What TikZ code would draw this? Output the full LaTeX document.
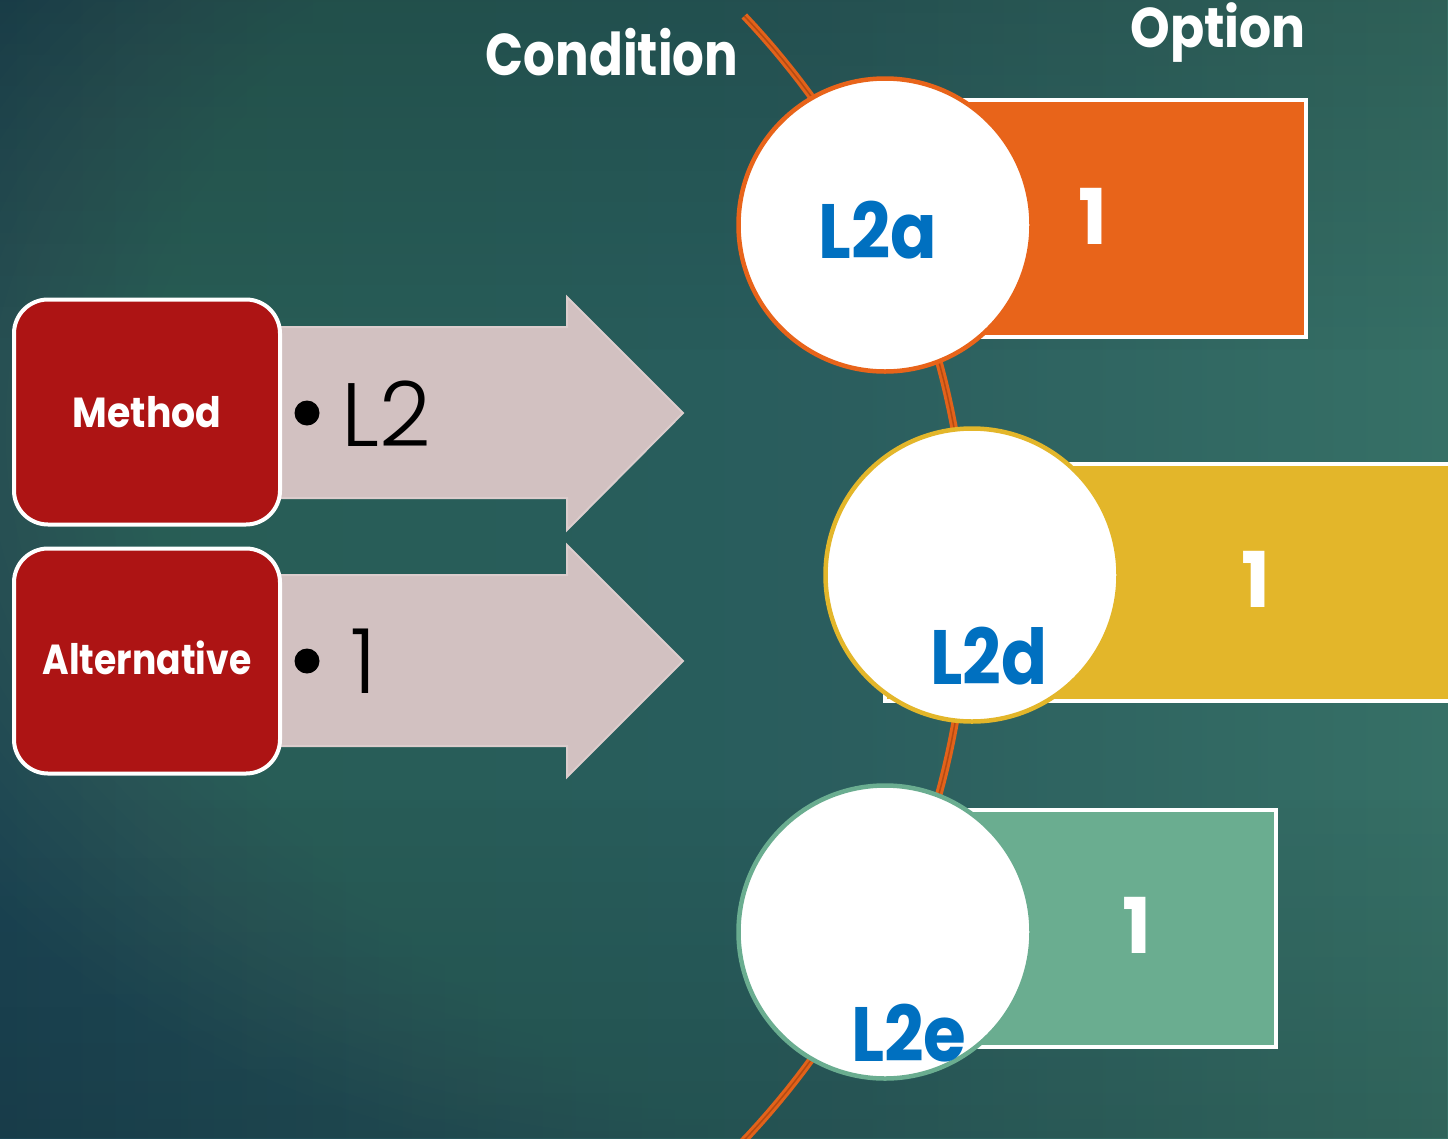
\documentclass[tikz,border=0pt]{standalone}
\usepackage{fontspec}
\usetikzlibrary{fadings}
\setmainfont{Poppins}
\newfontfamily\heavyface{Poppins Bold}
\newfontfamily\lightface{Poppins Light}

\definecolor{bgleft}{HTML}{1B4453}
\definecolor{bgright}{HTML}{367066}
\definecolor{bgglow}{HTML}{44796F}
\definecolor{boxred}{HTML}{AD1414}
\definecolor{arrowfill}{HTML}{D2C1C1}
\definecolor{arrowedge}{HTML}{DCCDCD}
\definecolor{optorange}{HTML}{E8641A}
\definecolor{optgold}{HTML}{E3B62A}
\definecolor{optgreen}{HTML}{6AAD90}
\definecolor{linkorange}{HTML}{E2621A}
\definecolor{linkcore}{HTML}{B44A12}
\definecolor{codeblue}{HTML}{0070C0}

% masks for darkening the top and bottom of the background
\begin{tikzfadingfrompicture}[name=topfade]
  \shade[top color=transparent!0, bottom color=transparent!100] (0,0) rectangle (2cm,2cm);
\end{tikzfadingfrompicture}
\begin{tikzfadingfrompicture}[name=floorfade]
  \shade[top color=transparent!100, bottom color=transparent!0] (0,0) rectangle (2cm,2cm);
\end{tikzfadingfrompicture}

\tikzset{
  redbox/.style={rectangle, rounded corners=34, fill=boxred, draw=white, line width=4,
    minimum width=266, minimum height=225, inner sep=0},
  boxtext/.style={text=white, inner sep=0, anchor=base, font=\heavyface\fontsize{42}{48}\selectfont},
  headtext/.style={text=white, inner sep=0, anchor=base, font=\heavyface\fontsize{59}{66}\selectfont},
  optbox/.style={rectangle, draw=white, line width=4, inner sep=0, minimum height=237, anchor=west},
  ring/.style={circle, fill=white, line width=4.5, minimum size=293, inner sep=0},
  codetext/.style={text=codeblue, inner sep=0, anchor=base, font=\heavyface\fontsize{77}{84}\selectfont},
  numtext/.style={text=white, inner sep=0, anchor=base, font=\heavyface\fontsize{77}{84}\selectfont},
  itemtext/.style={text=black, inner sep=0, anchor=base west, font=\lightface\fontsize{90}{96}\selectfont},
  dot/.style={circle, fill=black, minimum size=25, inner sep=0},
  bigarrow/.style={fill=arrowfill, draw=arrowedge, line width=2},
  link/.style={draw=linkorange, line width=7.5},
  linkmid/.style={draw=linkcore, line width=1.5},
}

\begin{document}
\begin{tikzpicture}[x=1pt, y=-1pt]
\useasboundingbox (0,0) rectangle (1448,1138);

% background: dark blue-teal on the left, lighter teal to the right, soft glow near the middle
\begin{scope}
  \clip (0,0) rectangle (1448,1138);
  \shade[left color=bgleft, right color=bgright] (0,0) rectangle (1448,1138);
  % glow built from thin stacked layers
  \foreach \k in {1,...,50}
    \fill[bgglow, fill opacity=0.035] (720,430) ellipse [x radius={18.8*\k}, y radius={14.8*\k}];
  \fill[black, fill opacity=0.15, path fading=topfade] (0,0) rectangle (1448,350);
  \fill[black, fill opacity=0.12, path fading=floorfade] (0,800) rectangle (1448,1138);
\end{scope}

% condition curve
\begin{scope}
  \clip (0,0) rectangle (1448,1138);
  \draw[link] plot[domain=-43.4:47, samples=90] ({150+818*cos(\x)}, {578+818*sin(\x)});
  \draw[linkmid] plot[domain=-43.4:47, samples=90] ({150+818*cos(\x)}, {578+818*sin(\x)});
\end{scope}

% arrows
\draw[bigarrow] (250,327) -- (567,327) -- (567,297) -- (683,413) -- (567,530) -- (567,498) -- (250,498) -- cycle;
\draw[bigarrow] (250,575) -- (567,575) -- (567,545) -- (683,661) -- (567,777) -- (567,746) -- (250,746) -- cycle;

% left boxes
\node[redbox] (method) at (147,412) {};
\node[redbox] (alt) at (147,661) {};
\node[boxtext, xscale=0.9] (methodlbl) at (147,427) {Method};
\node[boxtext, xscale=0.86] (altlbl) at (147,674) {Alternative};

% arrow contents
\node[dot] (dotA) at (307,413) {};
\node[itemtext] (itemA) at (341,446) {L2};
\node[dot] (dotB) at (307,661) {};
\node[itemtext] (itemB) at (350,693) {1};

% option bars
\node[optbox, fill=optorange, minimum width=464] (barA) at (840,218) {};
\node[optbox, fill=optgold, minimum width=700] (barD) at (883,582) {};
\node[optbox, fill=optgreen, minimum width=434] (barE) at (840,928) {};

% condition rings
\node[ring, draw=optorange] (ringA) at (885,225) {};
\node[ring, draw=optgold] (ringD) at (972,575) {};
\node[ring, draw=optgreen] (ringE) at (885,932) {};

\node[codetext, xscale=0.89] (codeA) at (878,258) {L2a};
\node[codetext, xscale=0.88] (codeD) at (989,684) {L2d};
\node[codetext, xscale=0.9] (codeE) at (909,1061) {L2e};

\node[numtext] (numA) at (1093,244) {1};
\node[numtext] (numD) at (1256,607) {1};
\node[numtext] (numE) at (1137,953) {1};

% headings
\node[headtext, xscale=0.845] (condition) at (612,75) {Condition};
\node[headtext, xscale=0.9, font=\heavyface\fontsize{56}{62}\selectfont] (option) at (1218,47) {Option};
\end{tikzpicture}
\end{document}
